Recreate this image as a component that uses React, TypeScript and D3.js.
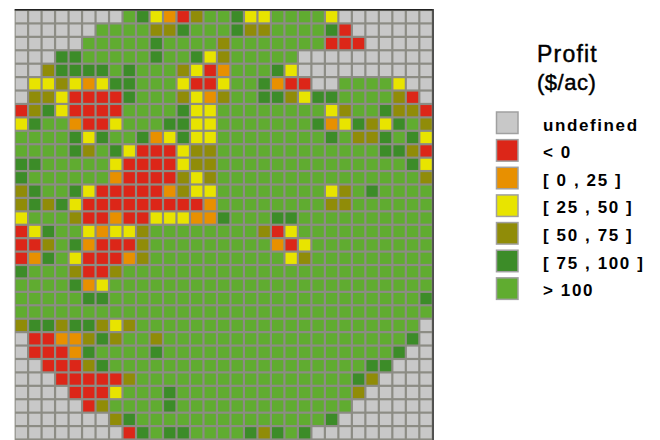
import React from "react";
import * as d3 from "d3";

const categories = ["undefined", "< 0", "[ 0 , 25 ]", "[ 25 , 50 ]", "[ 50 , 75 ]", "[ 75 , 100 ]", "> 100"];
const categoryCodes = ["U", "R", "O", "Y", "K", "D", "G"];
const categoryColors = ["#c8c8c8", "#dc2618", "#e89000", "#e8e400", "#908c08", "#3c8c28", "#60ac30"];

const gridRows = [
  "UUUUUUUUGDYORKGGDYYGGGGYUUUUUUU",
  "UUUUUUGGGGKKDGGGDKKGGGGDRUUUUUU",
  "UUUUUGGGGGDGGGGKGGGGGGGRRRUUUUU",
  "UUUDDGGGGGDGGDYKGGGGGUUUUUUUUUU",
  "UUKDDDDGDGGGKYROGGGDYUUUUUUUUUU",
  "UYYKYOYDDGGGYRRYGGDORRUUGGGGYUU",
  "UKKYRRRRDGGGKYOKGGDDKYDDGGGGKRU",
  "RKDYRRRRGGGGDYYGGGGGGGGYKGGDKKR",
  "YDGGORRYGGGDDYYGGGGGGGDOYDKYDGK",
  "GGGGDYDGGDOYDYYGGGGGGGGDGKKDGDY",
  "GGGGDKGDYRRRYKKGGGGGGGGGGGGDDKR",
  "DDGGGGGYRRRRYKKGGGGGGGGGGGGGGDY",
  "DGGGGGGORRRRKYKGGGGGGGGGGGGGGGK",
  "KDGGDYRRRRROKYYGGGGGGGGYKGDGGGG",
  "KDKDYRRRRRRRRROGGGGGGGGKKGGGGGG",
  "YGGGKRRORRYYYOODGGGDDGGGGGGGGGG",
  "RYDGGYOYYKGGGGGGGGKRYGGGGGGGGGG",
  "RRKGDORRRKGGGGGGGGGORYGGGGGGGGG",
  "RODGYRRROKGGGGGGGGGGYKGGGGGGGGG",
  "DGGGKRRKGGGGGGGGGGGGGGGGGGGGGGG",
  "GGGGDOYGGGGGGGGGGGGGGGGGGGGGGGG",
  "GGGGGDDGGGGGGGGGGGGGGGGGGGGGGGD",
  "GGGGGGGGGGGGGGGGGGGGGGGGGGGGGGG",
  "KDDKDDKYKGGGGGGGGGGGGGGGGGGGGGU",
  "URROOKDKGGKGGGGGGGGGGGGGGGGGGDU",
  "URRRODGGGGDGGGGGGGGGGGGGGGGGDUU",
  "UURRRKDGGGGGGGGGGGGGGGGGGGDDUUU",
  "UUURRRRRKGGGGGGGGGGGGGGGGDKUUUU",
  "UUUURRRYGGGDGGGGGGGGGGGGGKUUUUU",
  "UUUUURKGGGGDGGGGGGGGGGGGGUUUUUU",
  "UUUUUUUKDGGGGGGGGGGGGGGDUUUUUUU",
  "UUUUUUUURDGDDGGGGDKDGDUUUUUUUUU",
];

const W = 660;
const H = 440;
const nCols = gridRows[0].length;
const nRows = gridRows.length;

const x = d3.scaleLinear().domain([0, nCols]).range([14.6, 432.8]);
const y = d3.scaleLinear().domain([0, nRows]).range([10, 439.5]);
const color = d3.scaleOrdinal<string, string>().domain(categoryCodes).range(categoryColors);
const legendY = d3.scaleLinear().domain([0, categories.length]).range([111.5, 305]);

const gridColor = "#8c8c84";

export default function App() {
  const cw = x(1) - x(0);
  const ch = y(1) - y(0);
  return (
    <svg
      width={W}
      height={H}
      viewBox={`0 0 ${W} ${H}`}
      style={{ position: "absolute", left: 0, top: 0, background: "#ffffff" }}
    >
      <rect x={x(0)} y={y(0)} width={x(nCols) - x(0)} height={H - y(0)} fill={gridColor} />
      {gridRows.map((row, r) =>
        row.split("").map((c, i) => (
          <rect
            key={`${r}-${i}`}
            x={x(i) + 1.1}
            y={y(r) + 1.1}
            width={cw - 2.2}
            height={ch - 2.2}
            fill={color(c)}
          />
        ))
      )}
      <line x1={x(0)} x2={x(nCols)} y1={y(0) - 0.3} y2={y(0) - 0.3} stroke="#222" strokeWidth={1.4} />
      <line x1={x(nCols) + 0.3} x2={x(nCols) + 0.3} y1={y(0) - 1} y2={H} stroke="#222" strokeWidth={1.4} />

      <g fontFamily="'Liberation Sans', Arial, sans-serif" fill="#000">
        <text x={537} y={62} fontSize={23} fontWeight={400} letterSpacing={1.2} stroke="#000" strokeWidth={0.45}>Profit</text>
        <text x={537} y={90} fontSize={22} fontWeight={400} letterSpacing={0.5} stroke="#000" strokeWidth={0.45}>($/ac)</text>
        {categories.map((c, i) => {
          const yy = legendY(i);
          return (
            <g key={c}>
              <rect x={496.5} y={yy + 0.5} width={21.5} height={21.5} fill={categoryColors[i]} stroke="#a0a0a0" strokeWidth={1.5} />
              <text x={543} y={yy + 19} fontSize={17} fontWeight={700} letterSpacing={1.6} xmlSpace="preserve">{c}</text>
            </g>
          );
        })}
      </g>
    </svg>
  );
}
